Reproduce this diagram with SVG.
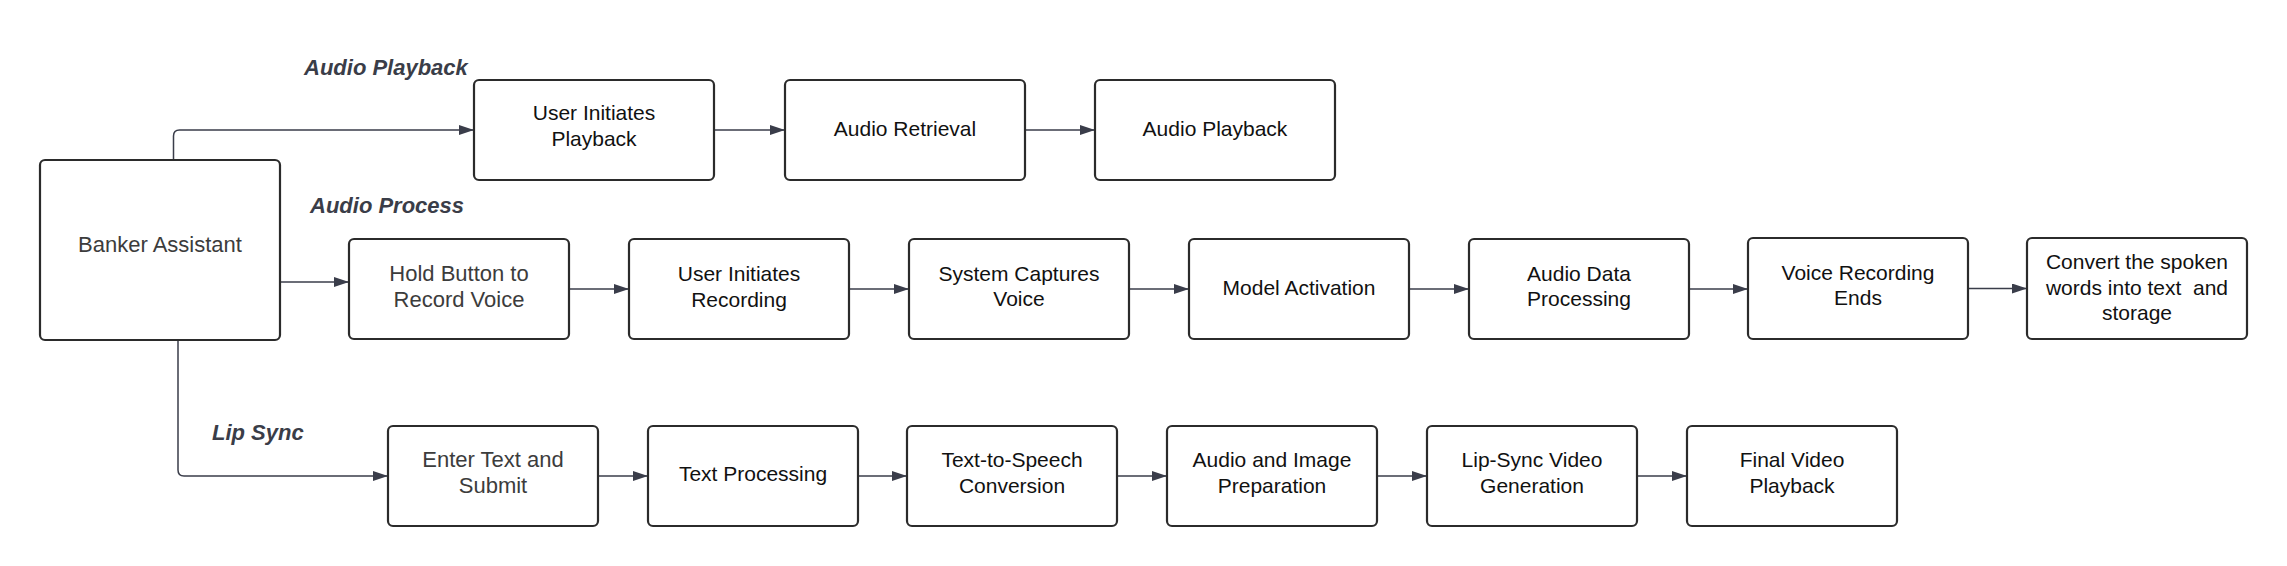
<svg xmlns="http://www.w3.org/2000/svg" width="2287" height="566" viewBox="0 0 2287 566">
<defs>
<marker id="arr" markerUnits="userSpaceOnUse" markerWidth="15" markerHeight="10" refX="15" refY="5" orient="auto">
<path d="M0,0 L15,5 L0,10 z" fill="#3a3d4a"/>
</marker>
<style>
.box{fill:#fff;stroke:#2b2b2b;stroke-width:2.2}
.t{font-family:"Liberation Sans",Arial,sans-serif;font-size:21px;fill:#111;text-anchor:middle}
.g{fill:#3c3c3c;font-size:22px}
.lbl{font-family:"Liberation Sans",Arial,sans-serif;font-size:22px;font-weight:bold;font-style:italic;fill:#3a3d48}
.c{fill:none;stroke:#3a3d4a;stroke-width:1.5;marker-end:url(#arr)}
</style>
</defs>
<rect width="2287" height="566" fill="#fff"/>
<g id="labels">
<text class="lbl" x="304" y="75">Audio Playback</text>
<text class="lbl" x="310" y="213">Audio Process</text>
<text class="lbl" x="212" y="440">Lip Sync</text>
</g>
<g id="connectors">
<path class="c" d="M173.5,160 V136 Q173.5,130 179.5,130 H474"/>
<path class="c" d="M714,130 H785"/>
<path class="c" d="M1025,130 H1095"/>
<path class="c" d="M280,282 H349"/>
<path class="c" d="M569,289 H629"/>
<path class="c" d="M849,289 H909"/>
<path class="c" d="M1129,289 H1189"/>
<path class="c" d="M1409,289 H1469"/>
<path class="c" d="M1689,289 H1748"/>
<path class="c" d="M1968,288.5 H2027"/>
<path class="c" d="M178,340 V470 Q178,476 184,476 H388"/>
<path class="c" d="M598,476 H648"/>
<path class="c" d="M858,476 H907"/>
<path class="c" d="M1117,476 H1167"/>
<path class="c" d="M1377,476 H1427"/>
<path class="c" d="M1637,476 H1687"/>
</g>
<g id="banker"><rect class="box" x="40" y="160" width="240" height="180" rx="5"/><text class="t g" x="160" y="252">Banker Assistant</text></g>
<g id="uip"><rect class="box" x="474" y="80" width="240" height="100" rx="5"/><text class="t" x="594" y="120">User Initiates</text><text class="t" x="594" y="146">Playback</text></g>
<g id="ar"><rect class="box" x="785" y="80" width="240" height="100" rx="5"/><text class="t" x="905" y="136">Audio Retrieval</text></g>
<g id="ap"><rect class="box" x="1095" y="80" width="240" height="100" rx="5"/><text class="t" x="1215" y="136">Audio Playback</text></g>
<g id="hold"><rect class="box" x="349" y="239" width="220" height="100" rx="5"/><text class="t g" x="459" y="281">Hold Button to</text><text class="t g" x="459" y="307">Record Voice</text></g>
<g id="uir"><rect class="box" x="629" y="239" width="220" height="100" rx="5"/><text class="t" x="739" y="281">User Initiates</text><text class="t" x="739" y="307">Recording</text></g>
<g id="scv"><rect class="box" x="909" y="239" width="220" height="100" rx="5"/><text class="t" x="1019" y="281">System Captures</text><text class="t" x="1019" y="306">Voice</text></g>
<g id="ma"><rect class="box" x="1189" y="239" width="220" height="100" rx="5"/><text class="t" x="1299" y="295">Model Activation</text></g>
<g id="adp"><rect class="box" x="1469" y="239" width="220" height="100" rx="5"/><text class="t" x="1579" y="281">Audio Data</text><text class="t" x="1579" y="306">Processing</text></g>
<g id="vre"><rect class="box" x="1748" y="238" width="220" height="101" rx="5"/><text class="t" x="1858" y="280">Voice Recording</text><text class="t" x="1858" y="305">Ends</text></g>
<g id="conv"><rect class="box" x="2027" y="238" width="220" height="101" rx="5"/><text class="t" x="2137" y="269">Convert the spoken</text><text class="t" x="2137" y="295" style="white-space:pre" xml:space="preserve">words into text  and</text><text class="t" x="2137" y="320">storage</text></g>
<g id="ets"><rect class="box" x="388" y="426" width="210" height="100" rx="5"/><text class="t g" x="493" y="467">Enter Text and</text><text class="t g" x="493" y="493">Submit</text></g>
<g id="tp"><rect class="box" x="648" y="426" width="210" height="100" rx="5"/><text class="t" x="753" y="481">Text Processing</text></g>
<g id="tts"><rect class="box" x="907" y="426" width="210" height="100" rx="5"/><text class="t" x="1012" y="467">Text-to-Speech</text><text class="t" x="1012" y="493">Conversion</text></g>
<g id="aip"><rect class="box" x="1167" y="426" width="210" height="100" rx="5"/><text class="t" x="1272" y="467">Audio and Image</text><text class="t" x="1272" y="493">Preparation</text></g>
<g id="lsv"><rect class="box" x="1427" y="426" width="210" height="100" rx="5"/><text class="t" x="1532" y="467">Lip-Sync Video</text><text class="t" x="1532" y="493">Generation</text></g>
<g id="fvp"><rect class="box" x="1687" y="426" width="210" height="100" rx="5"/><text class="t" x="1792" y="467">Final Video</text><text class="t" x="1792" y="493">Playback</text></g>
</svg>
